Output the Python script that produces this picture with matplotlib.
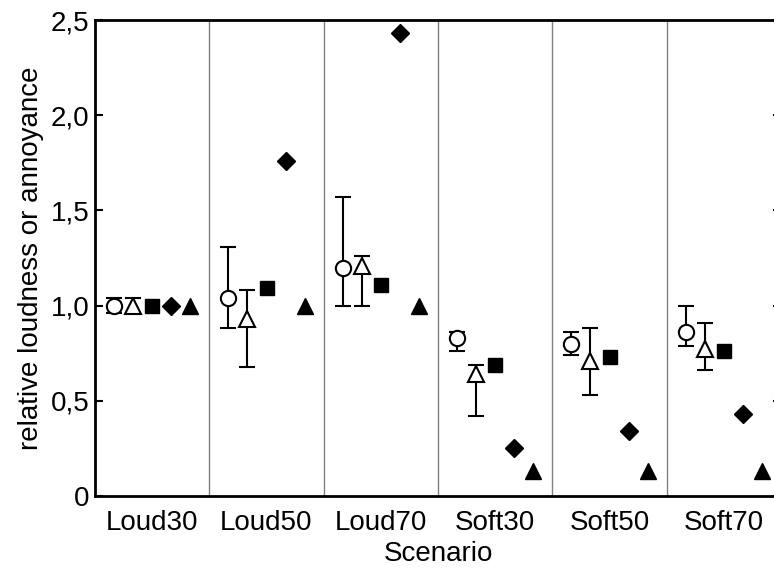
import matplotlib
matplotlib.use("Agg")

import matplotlib.pyplot as plt
import numpy as np
from matplotlib.ticker import FuncFormatter

plt.rcParams["font.family"] = ["Liberation Sans", "DejaVu Sans"]

SCENARIOS = ["Loud30", "Loud50", "Loud70", "Soft30", "Soft50", "Soft70"]

# open circle with error bars
circle_mean = [1.00, 1.04, 1.20, 0.83, 0.80, 0.86]
circle_low = [0.96, 0.88, 1.00, 0.76, 0.74, 0.79]
circle_high = [1.04, 1.31, 1.57, 0.86, 0.86, 1.00]

# open triangle with error bars
otri_mean = [1.00, 0.93, 1.21, 0.64, 0.71, 0.77]
otri_low = [0.96, 0.68, 1.00, 0.42, 0.53, 0.66]
otri_high = [1.04, 1.08, 1.26, 0.69, 0.88, 0.91]

# filled markers
square_vals = [1.00, 1.09, 1.11, 0.69, 0.73, 0.76]
diamond_vals = [1.00, 1.76, 2.43, 0.25, 0.34, 0.43]
ftri_vals = [1.00, 1.00, 1.00, 0.13, 0.13, 0.13]

YTICKS = [0, 0.5, 1.0, 1.5, 2.0, 2.5]


def comma_fmt(v, pos):
    if v == 0:
        return "0"
    return f"{v:.1f}".replace(".", ",")


def main():
    fig = plt.figure(figsize=(7.74, 5.71), dpi=100)
    ax = fig.add_axes([95 / 774, 1 - 496 / 571, 686 / 774, 476 / 571])

    n = len(SCENARIOS)
    base = np.arange(n)
    step = 1 / 6

    # category separators
    for b in range(1, n):
        ax.axvline(b, color="#808080", lw=1.0, zorder=1)

    eb_kw = dict(fmt="none", ecolor="black", elinewidth=1.5, capsize=5.5, capthick=1.5, zorder=2)

    x1 = base + 1 * step
    m = np.array(circle_mean)
    ax.errorbar(x1, m, yerr=[m - np.array(circle_low), np.array(circle_high) - m], **eb_kw)
    ax.plot(x1, m, "o", ms=11, mfc="white", mec="black", mew=1.5, ls="none", zorder=3)

    x2 = base + 2 * step
    m = np.array(otri_mean)
    ax.errorbar(x2, m, yerr=[m - np.array(otri_low), np.array(otri_high) - m], **eb_kw)
    ax.plot(x2, m, "^", ms=12, mfc="white", mec="black", mew=1.5, ls="none", zorder=3)

    ax.plot(base + 3 * step, square_vals, "s", ms=10, color="black", ls="none", zorder=3)
    ax.plot(base + 4 * step, diamond_vals, "D", ms=9.5, color="black", ls="none", zorder=3)
    ax.plot(base + 5 * step, ftri_vals, "^", ms=12, color="black", ls="none", zorder=3)

    ax.set_xlim(0, n)
    ax.set_ylim(0, 2.5)
    ax.set_xticks(base + 0.5)
    ax.set_xticklabels(SCENARIOS)
    ax.set_yticks(YTICKS)
    ax.yaxis.set_major_formatter(FuncFormatter(comma_fmt))

    ax.tick_params(axis="x", length=0, labelsize=20, pad=10)
    ax.tick_params(axis="y", direction="in", length=5.5, width=1.5, labelsize=20,
                   pad=4, right=True)

    for s in ["left", "bottom", "top"]:
        ax.spines[s].set_linewidth(2)
    ax.spines["right"].set_visible(False)

    ax.set_xlabel("Scenario", fontsize=20, labelpad=4)
    ax.set_ylabel("relative loudness or annoyance", fontsize=20, labelpad=5)

    fig.savefig("out.png", dpi=100)
    plt.close(fig)


if __name__ == "__main__":
    main()
